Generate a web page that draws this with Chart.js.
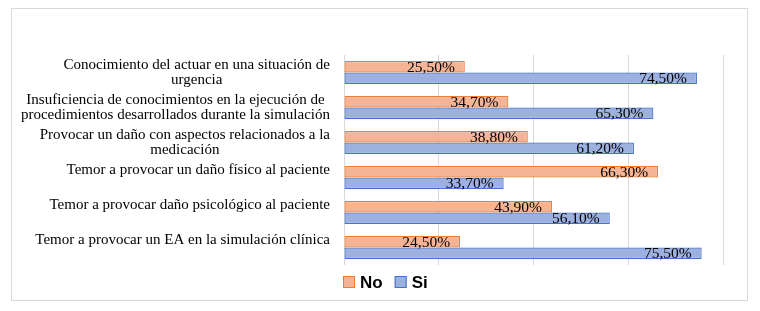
<!DOCTYPE html>
<html>
<head>
<meta charset="utf-8">
<script src="https://cdn.jsdelivr.net/npm/chart.js@4.4.1/dist/chart.umd.min.js"></script>
<style>
  html, body { margin: 0; padding: 0; background: #fff; }
  #wrap { position: relative; width: 760px; height: 311px; }
  #frame { position: absolute; left: 11px; top: 8px; width: 737px; height: 293px;
           box-sizing: border-box; border: 1px solid #d9d9d9; pointer-events: none; }
  canvas { position: absolute; left: 0; top: 0; }
</style>
</head>
<body>
<div id="wrap">
  <canvas id="c" width="760" height="311"></canvas>
  <div id="frame"></div>
</div>
<script>
// Category labels as Excel shows them (single-line ones carry a trailing line break)
const categories = [
  ['Conocimiento del actuar en una situación de', 'urgencia'],
  ['Insuficiencia de conocimientos en la ejecución de', 'procedimientos desarrollados durante la simulación'],
  ['Provocar un daño con aspectos relacionados a la', 'medicación'],
  ['Temor a provocar un daño físico al paciente', ''],
  ['Temor a provocar daño psicológico al paciente', ''],
  ['Temor a provocar un EA en la simulación clínica', ''],
];
const seriesNames = ['No', 'Si'];
const noValues = [25.5, 34.7, 38.8, 66.3, 43.9, 24.5];
const siValues = [74.5, 65.3, 61.2, 33.7, 56.1, 75.5];
const xTicks = [0, 20, 40, 60, 80];

const fills = ['#f5b496', '#9db1e0'];
const borders = ['#ed7d31', '#4472c4'];
const serif = '"Liberation Serif", "Times New Roman", serif';

const fmt = v => v.toFixed(2).replace('.', ',') + '%';

// multi-line category labels, lines centred, block right-aligned to the axis
const catLabels = {
  id: 'catLabels',
  afterDraw(chart) {
    const { ctx, chartArea, scales } = chart;
    const lh = 15.5;
    ctx.save();
    ctx.font = '15px ' + serif;
    ctx.fillStyle = '#000';
    ctx.textAlign = 'center';
    ctx.textBaseline = 'middle';
    categories.forEach((lines, i) => {
      const y = scales.y.getPixelForValue(i);
      const widest = Math.max(...lines.map(l => ctx.measureText(l).width));
      const cx = chartArea.left - 14 - widest / 2;
      const y0 = y - (lines.length - 1) * lh / 2;
      lines.forEach((l, j) => ctx.fillText(l, cx, y0 + j * lh));
    });
    ctx.restore();
  }
};

// value labels inside the bar end
const valueLabels = {
  id: 'valueLabels',
  afterDatasetsDraw(chart) {
    const { ctx } = chart;
    ctx.save();
    ctx.font = '15.5px ' + serif;
    ctx.fillStyle = '#000';
    ctx.textAlign = 'right';
    ctx.textBaseline = 'middle';
    chart.data.datasets.forEach((ds, d) => {
      chart.getDatasetMeta(d).data.forEach((bar, i) => {
        ctx.fillText(fmt(ds.data[i]), bar.x - 10, bar.y + 1);
      });
    });
    ctx.restore();
  }
};

// legend under the plot, starting at the plot's left edge
const bottomLegend = {
  id: 'bottomLegend',
  afterDraw(chart) {
    const { ctx, chartArea } = chart;
    let x = chartArea.left - 1;
    const y = chartArea.bottom + 11;
    ctx.save();
    ctx.font = 'bold 17px "Liberation Sans", Arial, sans-serif';
    ctx.textBaseline = 'middle';
    seriesNames.forEach((name, i) => {
      ctx.fillStyle = fills[i];
      ctx.fillRect(x, y, 12, 12);
      ctx.strokeStyle = borders[i];
      ctx.lineWidth = 1;
      ctx.strokeRect(x + 0.5, y + 0.5, 11, 11);
      ctx.fillStyle = '#000';
      ctx.fillText(name, x + 17, y + 7);
      x += 17 + ctx.measureText(name).width + 12;
    });
    ctx.restore();
  }
};

new Chart(document.getElementById('c'), {
  type: 'bar',
  data: {
    labels: categories.map(l => l.join(' ')),
    datasets: [
      { label: seriesNames[0], data: noValues, backgroundColor: fills[0], borderColor: borders[0] },
      { label: seriesNames[1], data: siValues, backgroundColor: fills[1], borderColor: borders[1] },
    ].map(ds => Object.assign(ds, {
      borderWidth: 1.2,
      borderSkipped: false,
      categoryPercentage: 0.66,
      barPercentage: 1,
    })),
  },
  options: {
    indexAxis: 'y',
    responsive: false,
    animation: false,
    layout: { padding: { left: 0, top: 55, right: 37, bottom: 46 } },
    plugins: { legend: { display: false }, tooltip: { enabled: false } },
    scales: {
      x: {
        min: xTicks[0], max: xTicks[xTicks.length - 1],
        afterBuildTicks: s => { s.ticks = xTicks.map(v => ({ value: v })); },
        ticks: { display: false },
        grid: { color: '#d9d9d9', drawTicks: false },
        border: { display: false },
        afterFit: s => { s.height = 0; },
      },
      y: {
        ticks: { display: false },
        grid: { display: false },
        border: { display: false },
        afterFit: s => { s.width = 344; },
      },
    },
  },
  plugins: [catLabels, valueLabels, bottomLegend],
});
</script>
</body>
</html>
